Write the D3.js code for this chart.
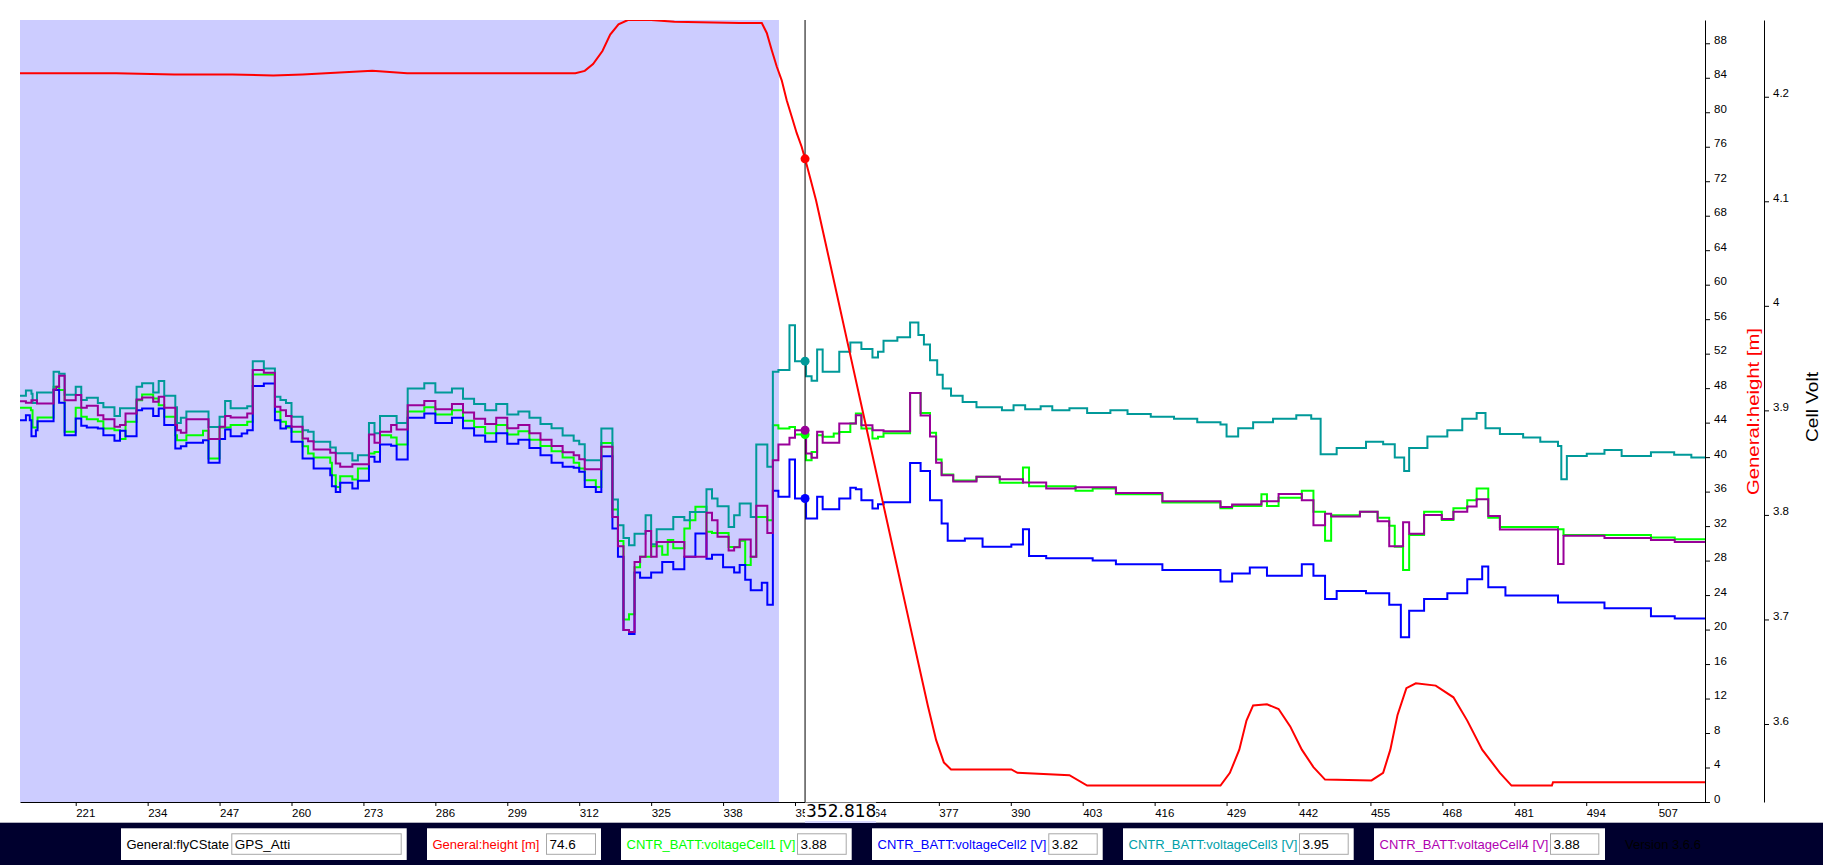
<!DOCTYPE html>
<html><head><meta charset="utf-8">
<script src="https://cdn.jsdelivr.net/npm/d3@7"></script>
<style>
body{margin:0;background:#fff;overflow:hidden}
svg{display:block}
text{font-family:"Liberation Sans",Arial,sans-serif}
</style></head><body>
<svg id="c" width="1823" height="865"></svg>
<script>
// ---------- data ----------
const timeDomain = [210.93, 515.47];
const heightDomain = [0, 90.7];
const voltDomain = [3.5254, 4.2734];
const xTicks = [221,234,247,260,273,286,299,312,325,338,351,364,377,390,403,416,429,442,455,468,481,494,507];
const heightTicks = [0,4,8,12,16,20,24,28,32,36,40,44,48,52,56,60,64,68,72,76,80,84,88];
const voltTicks = [3.6,3.7,3.8,3.9,4.0,4.1,4.2];
const voltTickLabels = ["3.6","3.7","3.8","3.9","4","4.1","4.2"];
const shadedRange = [210.93, 348.1];
const cursorTime = 352.818;
const cursorLabel = "352.818";

const height = [[210.93,84.53],[228.3,84.53],[238.8,84.39],[249.3,84.39],[256.7,84.26],[262,84.39],[270.4,84.66],[274.6,84.8],[280.9,84.53],[311.3,84.53],[313,84.8],[314.5,85.6],[316.2,87.1],[317.6,89.0],[319.1,90.2],[320.8,90.7],[325,90.7],[329.2,90.5],[341,90.35],[345,90.35],[345.9,89.2],[346.8,87.2],[347.7,85.3],[348.6,83.7],[349.5,81.4],[350.4,79.5],[351.3,77.6],[352.2,76.0],[352.818,74.6],[353.7,72.5],[354.8,69.8],[356.5,64.9],[358.6,58.8],[360.7,52.7],[362.8,46.6],[364.9,40.5],[367,34.4],[369.1,28.3],[371.2,22.2],[373.3,16.1],[375,11.2],[376.5,7.2],[377.9,4.6],[379.2,3.78],[390.1,3.78],[391.2,3.38],[400.6,3.11],[403.8,1.9],[427.9,1.9],[429.6,3.38],[431.3,6.07],[432.6,9.44],[433.8,11.2],[436.3,11.33],[438.4,10.79],[440.5,8.77],[442.6,6.07],[444.7,4.05],[446.8,2.6],[455.2,2.5],[457.3,3.38],[458.6,6.07],[459.9,10.1],[461.5,13.2],[463.2,13.76],[466.8,13.5],[470,12.14],[472.5,9.44],[475.2,6.07],[478.4,3.38],[480.5,1.9],[487.8,1.9],[488,2.3],[515.47,2.3]];

const cell1 = [[210.93,3.9024],[212.9,3.9002],[213.2,3.8836],[214.1,3.8932],[217,3.9225],[218,3.9194],[219,3.8795],[221,3.9024],[222,3.8938],[223,3.8916],[225,3.8897],[226,3.8827],[228,3.8811],[229,3.8725],[230,3.889],[232,3.9098],[233,3.9152],[235,3.9114],[236,3.905],[237,3.8938],[239,3.8763],[239.3,3.8715],[241,3.8763],[244,3.8804],[245,3.854],[247,3.8836],[249,3.8859],[252,3.889],[253,3.9343],[257,3.8986],[258,3.889],[259,3.8836],[260,3.8795],[262,3.8658],[263,3.8587],[264,3.8549],[267,3.8498],[267.3,3.838],[268,3.8268],[268.8,3.837],[271,3.8339],[272,3.8444],[274,3.8587],[275,3.8603],[276,3.8763],[278,3.8741],[279,3.8674],[281,3.899],[284,3.903],[286,3.896],[289,3.9],[291,3.89],[293,3.884],[295,3.878],[297,3.886],[299,3.877],[301,3.88],[303,3.872],[305,3.866],[307,3.861],[309,3.855],[311,3.85],[312,3.8444],[313,3.8332],[315,3.8268],[316,3.8689],[318,3.8051],[319,3.775],[320,3.7],[321,3.705],[322,3.75],[323,3.76],[325,3.77],[327,3.762],[328,3.776],[329,3.768],[331,3.787],[332,3.7949],[333,3.8077],[335,3.7838],[336,3.7828],[339,3.7694],[341,3.7752],[342,3.752],[343,3.76],[344,3.7981],[346,3.7949],[347,3.8858],[348,3.8826],[350,3.8842],[351,3.8769],[353,3.8523],[354,3.8603],[355,3.8763],[356,3.8747],[358,3.8779],[359,3.8794],[361,3.8874],[362,3.897],[363,3.8826],[365,3.873],[366,3.8747],[367,3.878],[371.8,3.9165],[373.7,3.8976],[375.4,3.8787],[376.5,3.8531],[377.5,3.8386],[379.6,3.833],[383.8,3.8364],[388,3.8308],[392.2,3.8453],[393.3,3.8275],[401.7,3.823],[404.8,3.8253],[409,3.8197],[417.4,3.8119],[427.9,3.8064],[430,3.8086],[435.3,3.8197],[436.3,3.8086],[438.4,3.8164],[442.6,3.823],[444.7,3.803],[446.8,3.7752],[447.9,3.7997],[453.1,3.803],[456.3,3.7974],[458.4,3.7896],[459.4,3.7696],[460.9,3.7474],[462,3.7808],[464.7,3.803],[467.9,3.7952],[470,3.8064],[472.5,3.8141],[474.2,3.8253],[476.3,3.7974],[478.4,3.7885],[488.9,3.7863],[489.9,3.7808],[497.3,3.7808],[505.7,3.7785],[510,3.7767],[515.47,3.7767]];

const cell2 = [[210.93,3.8906],[212,3.8954],[212.7,3.8906],[213,3.8753],[213.8,3.8811],[214.1,3.8897],[217,3.9194],[218,3.9072],[219,3.8763],[221,3.8922],[222,3.8852],[223,3.8836],[225,3.8827],[226,3.8763],[228,3.8709],[229,3.8804],[230,3.8753],[232,3.9002],[233,3.9018],[235,3.8945],[236,3.9018],[237,3.8859],[239,3.8635],[240,3.8658],[241,3.869],[244,3.8715],[245,3.8498],[247,3.8725],[248,3.8817],[249,3.8753],[251,3.8779],[252,3.8811],[253,3.9232],[255,3.9257],[257,3.8906],[258,3.8827],[259,3.8849],[260,3.8699],[262,3.854],[264,3.8444],[267,3.838],[267.3,3.8275],[268,3.822],[268.8,3.8307],[271,3.8252],[272,3.8326],[274,3.8556],[275,3.8508],[276,3.8674],[278,3.8661],[279,3.853],[281,3.893],[284,3.897],[286,3.888],[289,3.893],[291,3.883],[293,3.876],[295,3.87],[297,3.878],[299,3.868],[301,3.872],[303,3.864],[305,3.857],[307,3.85],[309,3.846],[311,3.845],[312,3.8412],[313,3.8268],[315,3.822],[316,3.8562],[318,3.787],[319,3.76],[320,3.69],[321,3.686],[322,3.745],[323,3.74],[325,3.745],[327,3.755],[329,3.748],[331,3.76],[333,3.7822],[335,3.758],[336,3.762],[338,3.75],[340,3.745],[341,3.752],[342,3.738],[343,3.728],[345,3.735],[346,3.714],[347,3.823],[348,3.8173],[350,3.853],[351,3.8157],[353,3.7965],[355,3.8173],[356,3.8055],[359,3.8157],[361,3.8259],[362,3.8246],[363,3.8141],[365,3.8061],[366,3.8102],[367,3.812],[371.8,3.8497],[373.7,3.8419],[375.4,3.8141],[377.5,3.7919],[378.6,3.7752],[381.7,3.7774],[384.9,3.7696],[390.1,3.7718],[392.2,3.7863],[393.3,3.7607],[396.4,3.7585],[404.8,3.7563],[409,3.7529],[417.4,3.7474],[427.9,3.7362],[430,3.744],[433.2,3.7496],[436.3,3.7418],[442.6,3.7529],[444.7,3.7418],[446.8,3.7196],[448.9,3.7273],[454.2,3.7251],[458.4,3.714],[460.5,3.6829],[462,3.7084],[464.7,3.7196],[468.9,3.7251],[472.5,3.7385],[475.2,3.7507],[476.3,3.7307],[479.4,3.7229],[488.9,3.7162],[497.3,3.7107],[505.7,3.703],[510,3.701],[515.47,3.701]];

const cell3 = [[210.93,3.914],[212,3.919],[213,3.916],[213.2,3.907],[214,3.917],[217,3.937],[218,3.935],[219,3.915],[221,3.9225],[222,3.91],[223,3.912],[225,3.907],[226,3.903],[228,3.8945],[229,3.902],[232,3.9225],[233,3.926],[235,3.917],[236,3.928],[237,3.914],[239,3.903],[239.3,3.888],[240,3.893],[241,3.899],[245,3.884],[247,3.894],[248,3.909],[249,3.902],[252,3.904],[253,3.947],[255,3.94],[257,3.913],[258,3.91],[259,3.907],[260,3.894],[262,3.881],[263,3.8795],[264,3.87],[267,3.8645],[268,3.859],[271,3.852],[272,3.857],[274,3.888],[275,3.878],[276,3.8945],[279,3.888],[281,3.921],[284,3.926],[286,3.917],[289,3.921],[291,3.911],[293,3.906],[295,3.9],[297,3.906],[299,3.896],[301,3.899],[303,3.893],[305,3.887],[307,3.883],[309,3.876],[311,3.871],[312,3.8677],[313,3.8523],[316,3.8826],[318,3.8147],[319,3.79],[320,3.778],[321,3.771],[322,3.782],[324,3.7997],[325,3.772],[326,3.7863],[329,3.7981],[331,3.7949],[332,3.8029],[335,3.8246],[336,3.8157],[337,3.8083],[339,3.7885],[340,3.7997],[341,3.8109],[343,3.7981],[344,3.8673],[346,3.846],[347,3.9369],[348,3.9385],[350,3.9815],[351,3.9471],[353,3.9327],[354,3.9283],[355,3.9583],[356,3.9369],[359,3.956],[361,3.965],[363,3.9586],[365,3.9506],[366,3.956],[367,3.9665],[369.5,3.97],[371.8,3.984],[373.3,3.972],[374.3,3.963],[375.4,3.948],[376.7,3.934],[377.7,3.921],[379.2,3.914],[381.3,3.908],[383.8,3.903],[388.4,3.9],[390.5,3.905],[392.6,3.901],[395.4,3.904],[397.5,3.9],[400.6,3.902],[403.8,3.8976],[408,3.9],[411.1,3.8965],[415.3,3.894],[419.5,3.892],[423.7,3.8887],[427.9,3.8865],[429,3.875],[431.1,3.883],[433.8,3.8887],[437.4,3.892],[441.6,3.8954],[444.3,3.892],[446,3.858],[448.9,3.864],[454.2,3.87],[457.3,3.8675],[459.4,3.855],[461.1,3.842],[462,3.864],[465.3,3.875],[468.9,3.881],[471.6,3.892],[474.2,3.8976],[475.8,3.883],[478.4,3.8775],[482.6,3.874],[485.7,3.87],[488.9,3.866],[489.5,3.834],[490.5,3.8564],[494.1,3.8586],[497.3,3.862],[500.4,3.8564],[505.7,3.86],[509.9,3.8575],[513,3.855],[515.47,3.855]];

const cell4 = [[210.93,3.9088],[212,3.9072],[213,3.9098],[214,3.9066],[217,3.92],[217.5,3.9225],[218,3.9331],[219,3.9098],[221,3.9146],[222,3.9024],[223,3.9044],[225,3.8954],[226,3.8916],[228,3.8843],[229,3.8859],[230,3.897],[232,3.9104],[233,3.9123],[235,3.9082],[236,3.913],[237,3.9024],[239,3.8859],[239.3,3.8811],[240,3.8785],[241,3.8916],[245,3.8725],[247,3.8843],[248,3.8945],[249,3.8932],[252,3.897],[253,3.9385],[255,3.9359],[257,3.9034],[258,3.9002],[259,3.8945],[260,3.8843],[262,3.8731],[263,3.8705],[264,3.8626],[267,3.8594],[268,3.8492],[268.8,3.846],[271,3.8485],[274,3.8769],[275,3.869],[276,3.8795],[278,3.8859],[279,3.8817],[281,3.905],[284,3.909],[286,3.901],[289,3.906],[291,3.898],[293,3.892],[295,3.887],[297,3.893],[299,3.883],[301,3.886],[303,3.878],[305,3.872],[307,3.866],[309,3.86],[311,3.857],[312,3.8533],[313,3.8437],[316,3.8651],[318,3.7981],[319,3.77],[320,3.69],[321,3.688],[322,3.755],[323,3.76],[324,3.7847],[325,3.76],[326,3.7742],[331,3.76],[335,3.802],[336,3.7949],[337,3.779],[339,3.766],[340,3.769],[341,3.7764],[343,3.76],[344,3.8087],[346,3.7828],[347,3.8523],[348,3.8673],[350,3.8737],[351,3.881],[353,3.8587],[354,3.8546],[355,3.8795],[356,3.869],[359,3.8874],[362,3.8954],[363,3.8858],[365,3.881],[367,3.88],[371.8,3.9165],[373.7,3.895],[375.4,3.875],[376.5,3.85],[377.5,3.838],[379.6,3.832],[383.8,3.8364],[388,3.834],[392.2,3.831],[396.4,3.8253],[401.7,3.8264],[409,3.821],[417.4,3.813],[427.9,3.8075],[430,3.81],[435.3,3.813],[438.4,3.82],[442.6,3.8141],[444.7,3.79],[446.8,3.801],[447.9,3.7985],[453.1,3.803],[456.3,3.794],[458.4,3.77],[460.9,3.793],[462,3.782],[464.7,3.8],[467.9,3.796],[470,3.803],[472.5,3.808],[474.2,3.815],[476.3,3.799],[478.4,3.786],[488.9,3.753],[489.9,3.78],[497.3,3.778],[505.7,3.776],[510,3.774],[515.47,3.774]];

const footerLabels = ["General:flyCState","General:height [m]","CNTR_BATT:voltageCell1 [V]","CNTR_BATT:voltageCell2 [V]","CNTR_BATT:voltageCell3 [V]","CNTR_BATT:voltageCell4 [V]"];
const footerValues = ["GPS_Atti","74.6","3.88","3.82","3.95","3.88"];
const versionText = "Version 3.6.6";

// ---------- layout / style ----------
const M = {left:20, right:1705, top:20, bottom:802};
const C = {red:"#ff0000", green:"#00ff00", blue:"#0000ff", teal:"#009999", purple:"#990099", shade:"#ccccff", footer:"#00002e"};
const svg = d3.select("#c");

const x = d3.scaleLinear().domain(timeDomain).range([M.left, M.right]);
const yH = d3.scaleLinear().domain(heightDomain).range([M.bottom, M.top]);
const yV = d3.scaleLinear().domain(voltDomain).range([M.bottom, M.top]);

svg.append("defs").append("clipPath").attr("id","plot")
  .append("rect").attr("x",M.left).attr("y",M.top).attr("width",M.right-M.left).attr("height",M.bottom-M.top);

// shaded flight-mode region
svg.append("rect").attr("x",x(shadedRange[0])).attr("y",M.top)
  .attr("width",x(shadedRange[1])-x(shadedRange[0])).attr("height",M.bottom-M.top)
  .attr("fill",C.shade);

const gPlot = svg.append("g").attr("clip-path","url(#plot)");
const stepLine = d3.line().x(d=>x(d[0])).y(d=>yV(d[1])).curve(d3.curveStepAfter);
const hLine = d3.line().x(d=>x(d[0])).y(d=>yH(d[1]));

const series = [
  {data:cell1,color:C.green},
  {data:cell2,color:C.blue},
  {data:cell3,color:C.teal},
  {data:cell4,color:C.purple}
];
series.forEach(s=>{
  gPlot.append("path").datum(s.data).attr("d",stepLine)
    .attr("fill","none").attr("stroke",s.color).attr("stroke-width",2);
});
gPlot.append("path").datum(height).attr("d",hLine)
  .attr("fill","none").attr("stroke",C.red).attr("stroke-width",2);

// cursor
const cx = x(cursorTime);
svg.append("line").attr("x1",cx).attr("x2",cx).attr("y1",M.top).attr("y2",M.bottom)
  .attr("stroke","#000").attr("stroke-width",1);

const bis = d3.bisector(d=>d[0]).right;
function stepAt(data,t){ return data[Math.max(0,bis(data,t)-1)][1]; }
function linAt(data,t){
  const i = Math.min(data.length-1, Math.max(1,bis(data,t)));
  const a=data[i-1], b=data[i];
  return a[1] + (b[1]-a[1])*(t-a[0])/(b[0]-a[0]);
}
series.forEach(s=>{
  svg.append("circle").attr("cx",cx).attr("cy",yV(stepAt(s.data,cursorTime))).attr("r",4.5).attr("fill",s.color);
});
svg.append("circle").attr("cx",cx).attr("cy",yH(linAt(height,cursorTime))).attr("r",4.5).attr("fill",C.red);

// axes
const axFont = "11.5px";
const gx = svg.append("g").attr("transform",`translate(0,${M.bottom})`)
  .call(d3.axisBottom(x).tickValues(xTicks).tickSize(4).tickSizeOuter(0).tickFormat(d3.format("d")));
gx.selectAll("text").attr("text-anchor","start").attr("x",0).attr("y",7)
  .style("font-size",axFont).attr("fill","#000");
gx.select(".domain").attr("stroke","#000");

const gh = svg.append("g").attr("transform",`translate(${M.right},0)`)
  .call(d3.axisRight(yH).tickValues(heightTicks).tickSize(5).tickSizeOuter(0));
gh.selectAll("text").attr("x",9).attr("dy","0").style("font-size",axFont).attr("fill","#000");

const vAxisX = 1764;
const gv = svg.append("g").attr("transform",`translate(${vAxisX},0)`)
  .call(d3.axisRight(yV).tickValues(voltTicks).tickSize(5).tickSizeOuter(0)
    .tickFormat((d,i)=>voltTickLabels[i]));
gv.selectAll("text").attr("x",9).attr("dy","0").style("font-size",axFont).attr("fill","#000");

svg.selectAll(".tick line").attr("stroke","#000");

// axis titles
svg.append("text").attr("transform",`translate(1753,411.5) rotate(-90)`)
  .attr("text-anchor","middle").attr("dominant-baseline","central")
  .attr("fill",C.red).style("font-size","16px")
  .attr("textLength",167).attr("lengthAdjust","spacingAndGlyphs")
  .text("General:height [m]");
svg.append("text").attr("transform",`translate(1812,407) rotate(-90)`)
  .attr("text-anchor","middle").attr("dominant-baseline","central")
  .attr("fill","#000").style("font-size","16px")
  .attr("textLength",70).attr("lengthAdjust","spacingAndGlyphs")
  .text("Cell Volt");

// footer band
svg.append("rect").attr("x",0).attr("y",822.7).attr("width",1823).attr("height",865-822.7).attr("fill",C.footer);

// cursor label
svg.append("rect").attr("x",cx).attr("y",M.bottom+0.5).attr("width",71).attr("height",20.2).attr("fill","#fff");
svg.append("line").attr("x1",cx).attr("x2",cx+71).attr("y1",822).attr("y2",822).attr("stroke",C.shade).attr("stroke-width",1.5);
svg.append("text").attr("x",cx+1).attr("y",817).style("font-family","'DejaVu Sans',sans-serif")
  .style("font-size","17px").attr("fill","#000").text(cursorLabel);

// footer boxes
const boxLayout = [
  {x0:121, x1:406.7, i0:231.3, i1:401.7},
  {x0:427, x1:601, i0:546, i1:596},
  {x0:621, x1:851.7, i0:797, i1:846.7},
  {x0:872, x1:1102.7, i0:1048.3, i1:1097.7},
  {x0:1123, x1:1353.7, i0:1299, i1:1348.7},
  {x0:1374, x1:1605, i0:1550, i1:1599.3}
];
const labelColors = ["#000", C.red, C.green, C.blue, "#00a0a8", "#b000b0"];
boxLayout.forEach((b,i)=>{
  svg.append("rect").attr("x",b.x0).attr("y",828.3).attr("width",b.x1-b.x0).attr("height",31.7).attr("fill","#fff");
  svg.append("rect").attr("x",b.i0+0.5).attr("y",833.8).attr("width",b.i1-b.i0-1).attr("height",20.5)
    .attr("fill","#fff").attr("stroke","#a8a8a8").attr("stroke-width",1);
  svg.append("text").attr("x",b.x0+5.5).attr("y",848.5).style("font-size","13px")
    .attr("fill",labelColors[i]).text(footerLabels[i]);
  svg.append("text").attr("x",b.i0+3.5).attr("y",848.5).style("font-size","13.5px")
    .attr("fill","#000").text(footerValues[i]);
});
svg.append("text").attr("x",1625).attr("y",849).style("font-size","13px").attr("fill","#000").text(versionText);
</script>
</body></html>
